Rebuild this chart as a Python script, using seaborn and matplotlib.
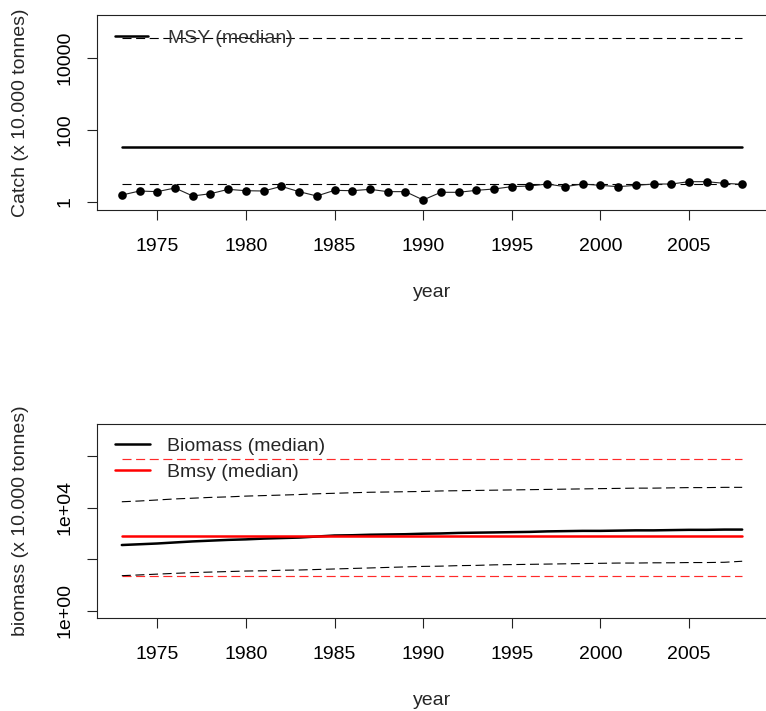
import numpy as np
import pandas as pd
import matplotlib
matplotlib.use("Agg")
import matplotlib.pyplot as plt
import seaborn as sns
from matplotlib.lines import Line2D

# ---------------- data ----------------
years = list(range(1973, 2009))

catch = [1.56, 2.02, 1.94, 2.45, 1.47, 1.70, 2.25, 2.06, 2.02, 2.72,
         1.94, 1.47, 2.11, 2.06, 2.25, 1.94, 1.94, 1.14, 1.86, 1.86,
         2.11, 2.30, 2.67, 2.78, 3.16, 2.67, 3.16, 2.90, 2.67, 2.90,
         3.16, 3.16, 3.67, 3.67, 3.30, 3.10]

msy_median = 33.7
msy_low = 3.16
msy_high = 36000

biomass_median = [355, 380, 407, 447, 490, 525, 562, 589, 631, 661,
                  692, 759, 832, 851, 891, 912, 933, 977, 1000, 1047,
                  1072, 1096, 1122, 1148, 1202, 1230, 1259, 1259, 1288, 1318,
                  1318, 1349, 1380, 1380, 1413, 1413]
biomass_high = [17000, 18200, 19950, 21900, 23400, 25100, 26300, 28200, 29500, 30900,
                32400, 34700, 36300, 38000, 39800, 40700, 41700, 42700, 44700, 45700,
                46800, 47900, 49000, 50100, 51300, 52500, 53700, 55000, 56200, 57500,
                57500, 58900, 60300, 60300, 61700, 61700]
biomass_low = [22.9, 24.5, 26.3, 28.2, 30.2, 31.6, 33.1, 34.7, 35.5, 37.2,
               38.0, 39.8, 41.7, 43.7, 45.7, 47.9, 50.1, 52.5, 53.7, 56.2,
               57.5, 60.3, 61.7, 63.1, 64.6, 66.1, 67.6, 69.2, 70.8, 70.8,
               72.4, 72.4, 74.1, 74.1, 75.9, 83.2]

bmsy_median = 794
bmsy_low = 23
bmsy_high = 780000

xticks = [1975, 1980, 1985, 1990, 1995, 2000, 2005]
catch_yticks = [1, 100, 10000]
catch_yticklabels = ["1", "100", "10000"]
bio_yticks = [1, 1e2, 1e4, 1e6]
bio_yticklabels = ["1e+00", "", "1e+04", ""]

# ---------------- style ----------------
sns.set_style("white")
plt.rcParams["font.family"] = ["Liberation Sans", "DejaVu Sans"]
plt.rcParams["lines.scale_dashes"] = False

W, H = 766, 711
fig = plt.figure(figsize=(W / 100, H / 100), dpi=100)


def px_axes(l, t, r, b):
    return fig.add_axes([l / W, 1 - b / H, (r - l) / W, (b - t) / H])


ax1 = px_axes(97, 15, 767, 210)
ax2 = px_axes(97, 424, 767, 618)

DASH = (0, (6.5, 3.3))
n = len(years)

# ---- top panel: catch ----
sns.lineplot(x=years, y=np.full(n, msy_high), ax=ax1, color="black", lw=0.8, linestyle=DASH)
sns.lineplot(x=years, y=np.full(n, msy_low), ax=ax1, color="black", lw=0.8, linestyle=DASH)
sns.lineplot(x=years, y=np.full(n, msy_median), ax=ax1, color="black", lw=1.8)
sns.lineplot(x=years, y=catch, ax=ax1, color="#222222", lw=0.8, marker="o",
             markersize=6.2, markeredgewidth=0, markerfacecolor="black")

# ---- bottom panel: biomass ----
sns.lineplot(x=years, y=np.full(n, bmsy_high), ax=ax2, color="#ff2a2a", lw=0.85, linestyle=DASH)
sns.lineplot(x=years, y=np.full(n, bmsy_low), ax=ax2, color="#ff2a2a", lw=0.85, linestyle=DASH)
sns.lineplot(x=years, y=biomass_high, ax=ax2, color="black", lw=0.8, linestyle=DASH)
sns.lineplot(x=years, y=biomass_low, ax=ax2, color="black", lw=0.8, linestyle=DASH)
sns.lineplot(x=years, y=biomass_median, ax=ax2, color="black", lw=1.8)
sns.lineplot(x=years, y=np.full(n, bmsy_median), ax=ax2, color="red", lw=1.8)

# ---- axes formatting ----
for ax in (ax1, ax2):
    ax.set_yscale("log")
    ax.set_xlim(1971.6, 2009.4)
    ax.set_xticks(xticks)
    ax.set_xticklabels([str(x) for x in xticks])
    ax.minorticks_off()
    for s in ax.spines.values():
        s.set_color("#222222")
        s.set_linewidth(0.8)
        s.set_visible(True)
    ax.tick_params(axis="both", which="major", direction="out", length=7.2,
                   width=0.8, color="#222222", labelsize=14, labelcolor="black",
                   bottom=True, left=True, top=False, right=False)
    ax.tick_params(axis="x", pad=13)
    ax.tick_params(axis="y", pad=9.5)
    ax.set_xlabel("year", fontsize=14)
    ax.xaxis.set_label_coords(0.5, -0.425)
    ax.xaxis.label.set_va("center")
    ax.yaxis.label.set_va("center")
    ax.yaxis.set_label_coords((21 - 97) / 670, 0.5)

ax1.set_ylim(0.6, 156000)
ax1.set_yticks(catch_yticks)
ax1.set_yticklabels(catch_yticklabels, rotation=90, va="center")
ax1.set_ylabel("Catch (x 10.000 tonnes)", fontsize=14)

ax2.set_ylim(0.52, 1.78e7)
ax2.set_yticks(bio_yticks)
ax2.set_yticklabels(bio_yticklabels, rotation=90, va="center")
ax2.set_ylabel("biomass (x 10.000 tonnes)", fontsize=14)
ax2.minorticks_off()

# ---- legends ----
fs_px = 14 * 100 / 72
leg1 = ax1.legend(handles=[Line2D([], [], color="black", lw=1.8)],
                  labels=["MSY (median)"], loc="center left",
                  bbox_to_anchor=(115 / W, 1 - 38 / H), bbox_transform=fig.transFigure,
                  frameon=False, fontsize=14, handlelength=33 / fs_px,
                  handletextpad=20 / fs_px, borderpad=0, borderaxespad=0)
for t in leg1.get_texts():
    t.set_color("#333333")

leg2 = ax2.legend(handles=[Line2D([], [], color="black", lw=1.8),
                           Line2D([], [], color="red", lw=1.8)],
                  labels=["Biomass (median)", "Bmsy (median)"], loc="center left",
                  bbox_to_anchor=(115 / W, 1 - 459 / H), bbox_transform=fig.transFigure,
                  frameon=False, fontsize=14, handlelength=35 / fs_px,
                  handletextpad=17 / fs_px, borderpad=0, borderaxespad=0,
                  labelspacing=0.42)

fig.savefig("out.png", dpi=100)
